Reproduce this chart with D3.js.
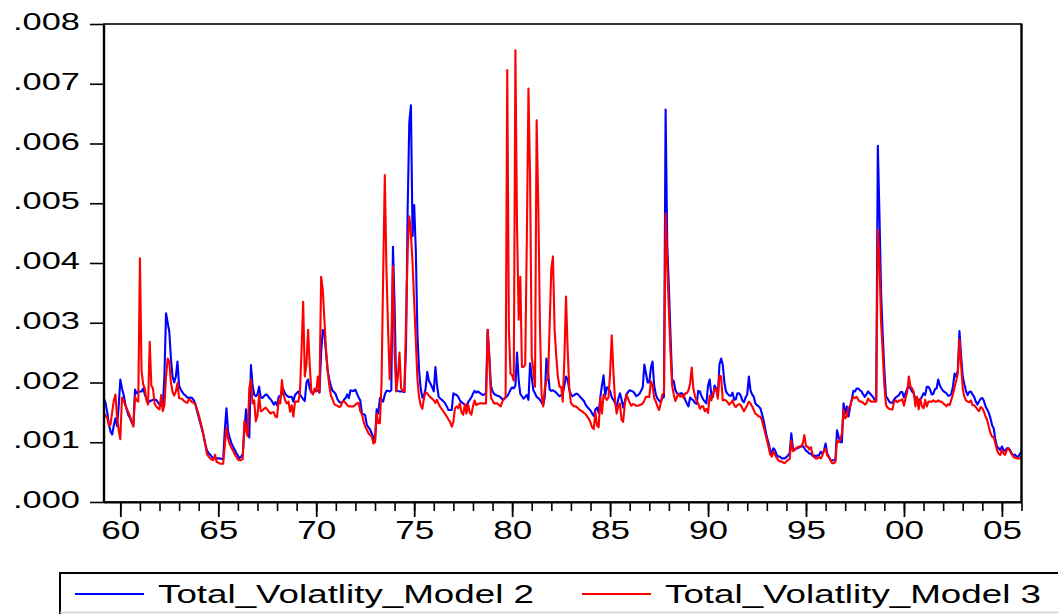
<!DOCTYPE html>
<html>
<head>
<meta charset="utf-8">
<script src="https://cdn.jsdelivr.net/npm/d3@7"></script>
<style>
  html, body { margin: 0; padding: 0; background: #fff; }
  svg { display: block; }
  text { font-family: "Liberation Sans", Arial, sans-serif; fill: #000; }
</style>
</head>
<body>
<svg id="chart" width="1058" height="614"></svg>
<script>
// Monthly observations, 1959M03 .. 2006M01, values in thousandths (x 0.001)
const startYear = 1959, startMonth = 3;
const seriesNames = ["Total_Volatlity_Model 2", "Total_Volatlity_Model 3"];
const seriesColors = ["#0000ff", "#ff0000"];

const model2 = [
  1.73,1.65,1.50,1.30,1.18,1.13,1.28,1.40,1.27,1.60,                 // 1959 (Mar-Dec)
  2.05,1.90,1.80,1.65,1.54,1.45,1.40,1.33,1.29,1.88,1.82,1.84,       // 1960
  1.85,1.85,1.90,1.80,1.72,1.70,1.68,1.70,1.71,1.71,1.71,1.67,       // 1961
  1.63,1.61,1.60,2.10,3.16,3.00,2.85,2.40,2.10,2.00,2.10,2.35,       // 1962
  1.95,1.88,1.84,1.80,1.78,1.75,1.74,1.75,1.74,1.70,1.64,1.52,       // 1963
  1.42,1.32,1.22,1.12,0.98,0.87,0.82,0.79,0.76,0.73,0.74,0.73,       // 1964
  0.73,0.73,0.72,0.72,1.20,1.57,1.18,1.08,0.99,0.93,0.88,0.82,       // 1965
  0.78,0.73,0.76,0.80,1.20,1.55,1.18,1.08,2.29,1.95,1.80,1.77,       // 1966
  1.80,1.93,1.75,1.74,1.77,1.80,1.79,1.75,1.72,1.68,1.63,1.67,       // 1967
  1.62,1.76,1.78,1.80,1.88,1.81,1.78,1.76,1.76,1.76,1.68,1.79,       // 1968
  1.82,1.85,1.80,1.76,1.72,1.69,2.00,2.05,1.90,1.83,1.83,1.85,       // 1969
  1.86,1.87,1.83,2.50,2.88,2.83,2.50,2.20,2.05,1.94,1.86,1.84,       // 1970
  1.80,1.72,1.68,1.66,1.67,1.71,1.74,1.80,1.74,1.87,1.86,1.86,       // 1971
  1.88,1.81,1.75,1.70,1.48,1.47,1.45,1.29,1.25,1.21,1.15,1.08,       // 1972
  1.02,1.55,1.48,1.74,1.72,1.68,1.80,1.86,1.86,1.85,1.87,4.27,       // 1973
  3.30,1.87,1.86,1.85,1.85,1.85,1.84,2.60,4.90,6.35,6.64,4.45,       // 1974
  4.97,4.20,2.80,2.20,1.90,1.75,1.78,1.90,2.18,2.03,1.98,1.92,       // 1975
  1.85,2.26,1.95,1.76,1.73,1.71,1.68,1.65,1.60,1.54,1.54,1.54,       // 1976
  1.82,1.80,1.79,1.76,1.70,1.67,1.65,1.63,1.60,1.67,1.71,1.75,       // 1977
  1.81,1.86,1.83,1.85,1.83,1.81,1.79,1.80,1.82,2.88,2.45,1.95,       // 1978
  1.85,1.81,1.79,1.78,1.77,1.75,1.72,1.72,1.75,1.77,1.82,1.88,       // 1979
  1.92,1.90,1.95,2.50,2.04,1.81,1.77,1.73,1.76,1.79,1.71,2.32,       // 1980
  2.10,1.87,1.82,1.76,1.74,1.71,1.67,1.62,1.75,2.40,2.18,1.88,       // 1981
  1.86,1.87,1.85,1.83,1.80,1.77,1.79,1.81,1.95,2.10,2.05,1.88,       // 1982
  1.80,1.77,1.79,1.81,1.81,1.78,1.75,1.72,1.69,1.63,1.59,1.56,       // 1983
  1.53,1.48,1.44,1.55,1.58,1.49,1.75,1.95,2.12,1.78,1.92,1.89,       // 1984
  1.86,1.75,1.71,1.66,1.60,1.72,1.82,1.72,1.58,1.68,1.80,1.84,       // 1985
  1.87,1.86,1.85,1.82,1.77,1.79,1.81,1.86,1.92,2.30,2.15,2.00,       // 1986
  2.00,2.25,2.35,1.95,1.80,1.73,1.70,1.67,1.74,1.76,6.57,4.30,       // 1987
  3.60,2.80,2.05,2.02,1.87,1.82,1.79,1.82,1.82,1.79,1.71,1.65,       // 1988
  1.60,1.75,1.72,1.70,1.66,1.64,1.86,1.85,1.77,1.72,1.68,1.65,       // 1989
  1.95,2.05,1.80,1.76,1.95,1.90,1.78,2.30,2.40,2.30,2.00,1.85,       // 1990
  1.81,1.78,1.78,1.83,1.71,1.72,1.82,1.82,1.78,1.70,1.67,1.75,       // 1991
  1.80,2.10,1.87,1.80,1.76,1.65,1.62,1.60,1.57,1.48,1.37,1.23,       // 1992
  1.09,0.99,0.87,0.81,0.90,0.87,0.79,0.76,0.76,0.73,0.73,0.73,       // 1993
  0.75,0.78,0.82,1.15,0.90,0.87,0.90,0.90,0.92,0.93,0.94,0.90,       // 1994
  0.86,0.84,0.81,0.81,0.77,0.78,0.76,0.78,0.78,0.84,0.81,0.86,       // 1995
  0.98,0.81,0.76,0.70,0.70,0.70,0.70,1.20,1.09,1.00,1.00,1.65,       // 1996
  1.48,1.60,1.43,1.59,1.71,1.86,1.85,1.90,1.90,1.87,1.85,1.80,       // 1997
  1.76,1.80,1.85,1.82,1.79,1.76,1.71,1.70,5.96,4.80,3.50,2.80,       // 1998
  2.20,1.77,1.73,1.68,1.66,1.66,1.72,1.75,1.77,1.79,1.84,1.84,       // 1999
  1.75,1.82,1.90,1.93,1.90,1.85,1.82,1.71,1.74,1.68,1.71,1.76,       // 2000
  1.82,1.79,1.93,1.93,1.88,1.80,1.81,1.89,1.90,2.05,1.95,1.90,       // 2001
  1.86,1.84,1.82,1.78,1.78,1.81,1.93,2.15,2.10,2.20,2.86,2.45,       // 2002
  2.10,1.97,1.86,1.79,1.84,1.85,1.80,1.76,1.68,1.63,1.68,1.73,       // 2003
  1.74,1.69,1.60,1.55,1.49,1.40,1.28,1.23,1.04,0.93,0.90,0.87,       // 2004
  0.93,0.87,0.85,0.90,0.90,0.87,0.81,0.79,0.79,0.76,0.76,0.80,       // 2005
  0.85                                                               // 2006 (Jan)
];

const model3 = [
  1.48,1.45,1.40,1.28,1.30,1.50,1.70,1.80,1.42,1.20,                 // 1959 (Mar-Dec)
  1.05,1.75,1.70,1.62,1.56,1.50,1.43,1.35,1.26,1.76,1.70,1.68,       // 1960
  4.08,2.20,1.97,1.90,1.70,1.63,2.68,1.95,1.90,1.65,1.60,1.57,       // 1961
  1.55,1.79,1.52,1.62,2.10,2.40,2.35,2.00,1.84,1.78,1.85,1.99,       // 1962
  1.74,1.73,1.72,1.69,1.67,1.66,1.72,1.70,1.67,1.66,1.63,1.55,       // 1963
  1.46,1.35,1.24,1.10,0.97,0.81,0.76,0.73,0.71,0.70,0.79,0.67,       // 1964
  0.66,0.64,0.64,0.64,0.95,1.24,1.06,0.97,0.91,0.86,0.80,0.76,       // 1965
  0.71,0.70,0.70,0.72,1.35,1.20,1.10,1.90,2.05,1.65,1.70,1.35,       // 1966
  1.45,1.79,1.52,1.53,1.56,1.58,1.55,1.51,1.48,1.50,1.50,1.43,       // 1967
  1.42,1.70,1.65,2.04,1.80,1.70,1.65,1.68,1.51,1.62,1.43,1.68,       // 1968
  1.68,1.68,1.82,2.54,3.35,2.10,2.30,2.88,2.30,1.85,1.80,1.90,       // 1969
  1.85,2.10,1.84,3.77,3.55,3.05,2.55,2.20,1.95,1.78,1.72,1.64,       // 1970
  1.62,1.61,1.59,1.60,1.68,1.68,1.66,1.62,1.60,1.60,1.60,1.60,       // 1971
  1.63,1.65,1.66,1.52,1.47,1.35,1.26,1.21,1.15,1.12,1.10,0.98,       // 1972
  1.00,1.48,1.32,1.32,2.00,3.80,5.47,3.90,2.90,2.05,2.70,3.94,       // 1973
  2.50,1.85,2.10,2.50,1.90,1.86,1.86,3.00,4.20,4.78,4.50,4.00,       // 1974
  3.35,2.70,2.05,1.75,1.62,1.56,1.74,1.84,1.82,1.78,1.75,1.73,       // 1975
  1.70,1.66,1.71,1.64,1.59,1.55,1.51,1.47,1.43,1.38,1.34,1.26,       // 1976
  1.34,1.57,1.60,1.57,1.65,1.50,1.46,1.63,1.48,1.64,1.50,1.46,       // 1977
  1.60,1.70,1.62,1.64,1.65,1.65,1.65,1.65,1.65,2.88,2.40,1.75,       // 1978
  1.70,1.65,1.65,1.65,1.62,1.60,1.68,1.73,1.76,7.23,2.90,2.15,       // 1979
  2.12,2.03,7.56,4.60,3.05,3.77,2.26,2.26,2.30,4.40,6.92,5.40,       // 1980
  2.43,2.21,1.93,6.39,5.00,3.00,1.80,1.60,1.90,2.03,2.06,3.00,       // 1981
  3.90,4.11,2.90,2.45,2.10,1.93,1.93,1.68,2.40,3.44,2.55,1.90,       // 1982
  1.66,1.62,1.60,1.60,1.58,1.55,1.53,1.52,1.49,1.47,1.43,1.39,       // 1983
  1.33,1.25,1.22,1.50,1.28,1.25,1.75,1.48,1.80,1.75,1.71,1.75,       // 1984
  2.15,2.79,2.20,1.71,1.48,1.60,1.65,1.38,1.34,1.63,1.80,1.73,       // 1985
  1.66,1.61,1.64,1.63,1.61,1.61,1.62,1.63,1.65,1.70,1.76,1.76,       // 1986
  1.76,2.02,1.95,1.74,1.68,1.60,1.54,1.65,1.80,1.82,4.83,4.00,       // 1987
  3.20,2.50,1.95,1.80,1.69,1.76,1.81,1.76,1.79,1.74,1.82,1.82,       // 1988
  1.87,1.98,2.25,1.90,1.77,1.69,1.65,1.56,1.60,1.60,1.52,1.56,       // 1989
  1.49,1.78,1.70,1.80,1.90,1.88,1.73,2.12,2.10,1.70,1.71,1.70,       // 1990
  1.67,1.63,1.66,1.70,1.62,1.59,1.62,1.64,1.62,1.57,1.52,1.57,       // 1991
  1.62,1.68,1.65,1.60,1.54,1.48,1.46,1.43,1.43,1.37,1.26,1.15,       // 1992
  1.04,0.93,0.80,0.76,0.84,0.79,0.74,0.70,0.68,0.68,0.66,0.65,       // 1993
  0.68,0.70,0.72,1.03,0.85,0.87,0.90,0.92,0.93,0.93,0.98,1.12,       // 1994
  0.93,0.93,0.88,0.92,0.80,0.75,0.73,0.73,0.75,0.73,0.78,0.86,       // 1995
  0.89,0.78,0.75,0.70,0.65,0.65,0.67,1.03,1.00,1.04,1.15,1.54,       // 1996
  1.40,1.43,1.58,1.60,1.70,1.76,1.74,1.76,1.71,1.68,1.68,1.66,       // 1997
  1.63,1.65,1.73,1.70,1.68,1.68,1.68,1.68,4.55,4.00,3.00,2.50,       // 1998
  1.95,1.62,1.58,1.56,1.55,1.55,1.68,1.70,1.67,1.70,1.70,1.72,       // 1999
  1.61,1.74,1.84,2.10,1.93,1.90,1.84,1.60,1.76,1.55,1.73,1.60,       // 2000
  1.57,1.71,1.60,1.68,1.68,1.68,1.70,1.68,1.68,1.70,1.68,1.68,       // 2001
  1.65,1.63,1.60,1.64,1.62,1.71,1.80,1.92,2.03,2.15,2.72,2.30,       // 2002
  1.90,1.76,1.70,1.68,1.67,1.70,1.62,1.62,1.59,1.55,1.52,1.59,       // 2003
  1.57,1.51,1.43,1.37,1.26,1.15,1.09,1.09,0.98,0.87,0.81,0.79,       // 2004
  0.87,0.81,0.79,0.87,0.90,0.85,0.80,0.76,0.74,0.73,0.73,0.73,       // 2005
  0.75                                                               // 2006 (Jan)
];

const yTickValues = [0, 1, 2, 3, 4, 5, 6, 7, 8];
const yTickLabels = [".000", ".001", ".002", ".003", ".004", ".005", ".006", ".007", ".008"];
const xMajorYears = [1960, 1965, 1970, 1975, 1980, 1985, 1990, 1995, 2000, 2005];
const xTickLabels = ["60", "65", "70", "75", "80", "85", "90", "95", "00", "05"];
const xMinorYears = d3.range(1960, 2007);

// ---- layout ----
const svg = d3.select("#chart");
const plot = { left: 104, right: 1021.5, top: 24, bottom: 502 };

const t = i => startYear + (startMonth - 1 + i) / 12;
const n = model2.length;

const x = d3.scaleLinear().domain([t(0), t(n - 1)]).range([plot.left, plot.right]);
const y = d3.scaleLinear().domain([0, 8]).range([plot.bottom, plot.top]);

svg.append("rect").attr("width", 1058).attr("height", 614).attr("fill", "#fff");

// series
const line = d3.line().x((d, i) => x(t(i))).y(d => y(d)).curve(d3.curveLinear);
[model2, model3].forEach((s, k) => {
  svg.append("path")
    .datum(s)
    .attr("d", line)
    .attr("fill", "none")
    .attr("stroke", seriesColors[k])
    .attr("stroke-width", 2.1)
    .attr("stroke-linejoin", "round");
});

// frame
svg.append("rect")
  .attr("x", plot.left).attr("y", plot.top)
  .attr("width", plot.right - plot.left).attr("height", plot.bottom - plot.top)
  .attr("fill", "none").attr("stroke", "#000").attr("stroke-width", 1.6);
svg.append("line").attr("x1", plot.left).attr("x2", plot.left)
  .attr("y1", plot.top).attr("y2", plot.bottom + 1)
  .attr("stroke", "#000").attr("stroke-width", 2.4);
svg.append("line").attr("x1", plot.left).attr("x2", plot.right + 1)
  .attr("y1", plot.bottom + 0.5).attr("y2", plot.bottom + 0.5)
  .attr("stroke", "#000").attr("stroke-width", 2.2);
svg.append("line").attr("x1", plot.right).attr("x2", plot.right)
  .attr("y1", plot.top).attr("y2", plot.bottom)
  .attr("stroke", "#000").attr("stroke-width", 2.2);

// y axis
const yAxis = d3.axisLeft(y).tickValues(yTickValues).tickSize(14).tickSizeOuter(0)
  .tickFormat((d, i) => yTickLabels[i]);
const gy = svg.append("g").attr("transform", `translate(${plot.left},0)`).call(yAxis);
gy.select(".domain").remove();
gy.selectAll(".tick line").attr("stroke", "#000").attr("stroke-width", 1.6);
gy.selectAll(".tick text")
  .attr("x", -24).attr("dy", null).attr("y", 5.5)
  .attr("text-anchor", "end")
  .style("font-size", "24px")
  .attr("textLength", 67).attr("lengthAdjust", "spacingAndGlyphs");

// x axis: minor then major
const xMinor = d3.axisBottom(x).tickValues(xMinorYears).tickSize(8).tickSizeOuter(0).tickFormat("");
const gxm = svg.append("g").attr("transform", `translate(0,${plot.bottom + 1})`).call(xMinor);
gxm.select(".domain").remove();
gxm.selectAll(".tick line").attr("stroke", "#000").attr("stroke-width", 1.6);

const xMajor = d3.axisBottom(x).tickValues(xMajorYears).tickSize(14).tickSizeOuter(0)
  .tickFormat((d, i) => xTickLabels[i]);
const gx = svg.append("g").attr("transform", `translate(0,${plot.bottom + 1})`).call(xMajor);
gx.select(".domain").remove();
gx.selectAll(".tick line").attr("stroke", "#000").attr("stroke-width", 1.8);
gx.selectAll(".tick text")
  .attr("dy", null).attr("y", 36)
  .style("font-size", "25px")
  .attr("textLength", 39).attr("lengthAdjust", "spacingAndGlyphs");

// legend
const lg = svg.append("g");
lg.append("path").attr("d", "M60,614 L60,573 L1060,573")
  .attr("fill", "none").attr("stroke", "#000").attr("stroke-width", 2);
lg.append("line").attr("x1", 60).attr("x2", 1058).attr("y1", 612.5).attr("y2", 612.5)
  .attr("stroke", "#d0d0d0").attr("stroke-width", 1.5);
const legendX = [75, 582];
seriesNames.forEach((name, k) => {
  lg.append("line")
    .attr("x1", legendX[k]).attr("x2", legendX[k] + 69)
    .attr("y1", 594).attr("y2", 594)
    .attr("stroke", seriesColors[k]).attr("stroke-width", 2);
  lg.append("text")
    .attr("x", legendX[k] + 83).attr("y", 603)
    .style("font-size", "25.5px")
    .attr("textLength", 376).attr("lengthAdjust", "spacingAndGlyphs")
    .text(name);
});
</script>
</body>
</html>
